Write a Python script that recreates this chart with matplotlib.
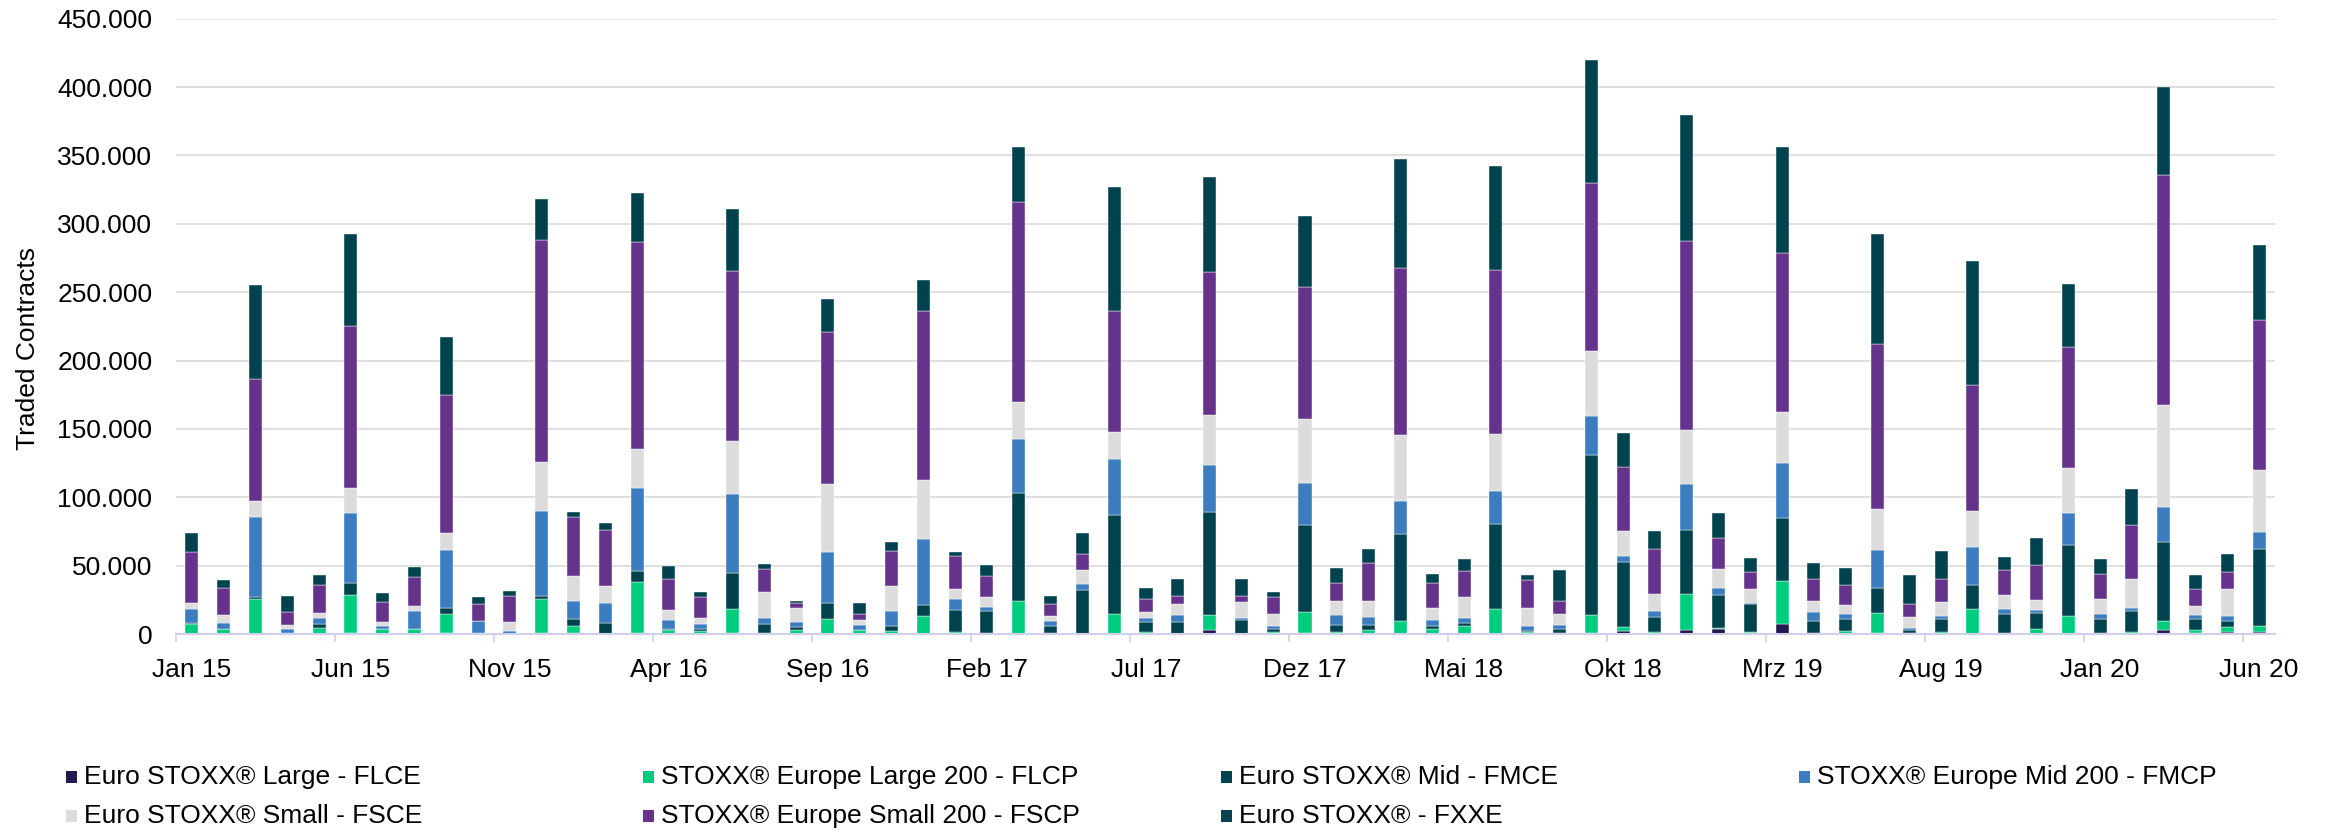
import matplotlib
matplotlib.use("Agg")
import matplotlib.pyplot as plt
import numpy as np
from matplotlib.patches import Rectangle
from matplotlib.ticker import FuncFormatter, FixedLocator

plt.rcParams['font.family'] = ['Liberation Sans', 'DejaVu Sans']

months = ["Jan 15", "Feb 15", "Mrz 15", "Apr 15", "Mai 15", "Jun 15", "Jul 15", "Aug 15", "Sep 15", "Okt 15", "Nov 15", "Dez 15",
          "Jan 16", "Feb 16", "Mrz 16", "Apr 16", "Mai 16", "Jun 16", "Jul 16", "Aug 16", "Sep 16", "Okt 16", "Nov 16", "Dez 16",
          "Jan 17", "Feb 17", "Mrz 17", "Apr 17", "Mai 17", "Jun 17", "Jul 17", "Aug 17", "Sep 17", "Okt 17", "Nov 17", "Dez 17",
          "Jan 18", "Feb 18", "Mrz 18", "Apr 18", "Mai 18", "Jun 18", "Jul 18", "Aug 18", "Sep 18", "Okt 18", "Nov 18", "Dez 18",
          "Jan 19", "Feb 19", "Mrz 19", "Apr 19", "Mai 19", "Jun 19", "Jul 19", "Aug 19", "Sep 19", "Okt 19", "Nov 19", "Dez 19",
          "Jan 20", "Feb 20", "Mrz 20", "Apr 20", "Mai 20", "Jun 20"]

# values in thousand contracts
flce = [0, 0, 0, 0, 0, 0.7, 0, 0, 1.0, 0, 0, 0.7,
        0.7, 0, 1.0, 0, 0, 1.0, 0, 0, 0, 0, 0, 0,
        0, 0, 0, 0, 0, 0, 0, 0, 2.6, 0, 0, 1.0,
        0, 0, 0, 0, 0, 0, 0, 0, 0.7, 2.0, 0, 2.6,
        3.3, 1.0, 7.5, 0, 0, 0.7, 0, 0, 0, 0, 0, 0.3,
        0, 0, 2.9, 0.7, 1.3, 1.6]
flcp = [7.5, 3.3, 25.4, 0.7, 4.2, 28.1, 3.6, 3.9, 13.7, 1.0, 0, 24.8,
        5.2, 0.3, 36.9, 2.9, 2.0, 17.3, 1.0, 2.9, 11.1, 2.9, 2.0, 13.4,
        1.3, 1.0, 24.1, 1.0, 0.3, 14.4, 1.3, 0.3, 11.4, 0.3, 1.3, 15.3,
        1.3, 2.9, 9.5, 3.6, 5.5, 18.3, 1.6, 0.7, 13.0, 3.3, 1.6, 26.4,
        1.3, 0.7, 31.3, 1.0, 2.0, 15.0, 0.7, 1.3, 18.6, 0.7, 3.3, 13.0,
        0.7, 1.3, 6.5, 2.3, 3.9, 4.6]
fmce = [0.5, 0, 2.0, 0, 3.3, 8.8, 0, 0, 4.6, 0, 0, 2.0,
        4.9, 7.8, 8.2, 0.7, 1.3, 26.4, 6.5, 2.3, 11.4, 0, 3.9, 7.8,
        16.6, 16.0, 78.9, 4.9, 31.6, 72.7, 7.8, 8.2, 75.4, 10.1, 2.0, 63.3,
        5.5, 3.9, 63.3, 2.3, 2.9, 62.0, 0.7, 2.6, 117.4, 47.0, 11.1, 47.3,
        24.1, 19.9, 46.3, 8.8, 9.1, 17.9, 2.0, 9.8, 17.6, 14.0, 11.7, 51.9,
        10.4, 15.7, 57.7, 8.2, 4.6, 55.8]
fmcp = [10.1, 4.6, 58.1, 3.3, 3.9, 50.6, 2.0, 13.0, 41.8, 8.5, 2.0, 62.3,
        13.0, 14.7, 60.7, 6.5, 4.2, 57.7, 4.2, 3.6, 37.2, 3.6, 10.8, 48.3,
        7.5, 2.9, 39.5, 3.6, 4.9, 40.8, 2.6, 5.5, 34.3, 1.6, 2.9, 30.7,
        6.9, 5.5, 24.8, 4.6, 3.3, 24.1, 3.6, 3.3, 28.1, 4.6, 3.9, 33.6,
        4.6, 1.3, 39.8, 6.2, 3.3, 27.7, 1.6, 2.0, 27.4, 3.6, 2.6, 23.2,
        3.3, 2.3, 26.1, 2.6, 3.6, 12.4]
fsce = [4.6, 5.9, 11.7, 2.6, 3.9, 18.3, 3.3, 3.9, 13.0, 0.3, 6.9, 35.9,
        18.6, 12.4, 28.4, 7.5, 4.2, 38.5, 19.2, 10.1, 50.2, 3.9, 18.6, 43.4,
        7.2, 7.5, 27.4, 3.6, 10.1, 19.9, 4.2, 7.8, 36.2, 11.7, 8.2, 46.6,
        10.4, 12.1, 47.6, 8.2, 15.0, 41.8, 13.4, 7.8, 48.0, 18.6, 12.4, 39.1,
        14.0, 10.1, 37.2, 8.5, 6.5, 30.3, 8.2, 10.1, 26.7, 10.4, 7.5, 32.9,
        11.1, 20.6, 74.0, 6.9, 19.2, 45.3]
fscp = [37.2, 20.2, 89.4, 9.8, 20.6, 118.7, 14.4, 20.6, 100.5, 12.1, 18.9, 162.4,
        43.4, 41.1, 151.7, 22.5, 15.3, 124.9, 16.3, 3.9, 110.9, 3.9, 25.4, 123.6,
        24.8, 15.3, 146.1, 9.1, 11.4, 88.1, 9.5, 6.2, 105.0, 4.2, 12.4, 96.6,
        13.4, 27.7, 122.7, 18.9, 19.6, 119.7, 20.2, 10.1, 123.0, 47.0, 33.3, 138.6,
        22.8, 12.1, 116.8, 16.0, 15.3, 120.7, 9.1, 17.3, 92.0, 18.3, 25.4, 88.7,
        18.6, 40.1, 168.3, 12.1, 12.4, 109.6]
fxxe = [14.0, 5.2, 68.5, 11.4, 6.9, 67.5, 6.9, 7.8, 42.4, 5.5, 3.6, 30.0,
        3.3, 4.6, 35.6, 9.5, 3.6, 45.0, 3.9, 1.6, 24.1, 8.2, 6.9, 22.5,
        2.9, 7.5, 40.4, 5.5, 15.3, 91.3, 8.5, 12.4, 69.2, 12.4, 3.9, 52.2,
        11.1, 9.8, 79.3, 6.5, 8.2, 76.7, 3.9, 22.5, 89.7, 24.5, 12.7, 92.0,
        18.6, 10.4, 77.3, 11.7, 12.1, 80.2, 21.5, 19.9, 90.7, 9.5, 19.6, 46.0,
        10.8, 26.4, 64.3, 10.1, 13.7, 55.1]

series_labels = ["Euro STOXX® Large - FLCE", "STOXX® Europe Large 200 - FLCP",
                 "Euro STOXX® Mid - FMCE", "STOXX® Europe Mid 200 - FMCP",
                 "Euro STOXX® Small - FSCE", "STOXX® Europe Small 200 - FSCP",
                 "Euro STOXX® - FXXE"]
series_values = [flce, flcp, fmce, fmcp, fsce, fscp, fxxe]
series_colors = ["#221b52", "#00cc7d", "#00424d", "#3b7dbf", "#dcdcdc", "#66338c", "#00424d"]

W, H = 2326, 833
fig = plt.figure(figsize=(W / 100, H / 100), dpi=100)
ax = fig.add_axes([176 / W, 1 - 634 / H, (2275 - 176) / W, (634 - 18.75) / H])

x = np.arange(len(months))
bottom = np.zeros(len(months))
for vals, col in zip(series_values, series_colors):
    v = np.array(vals) * 1000.0
    ax.bar(x, v, width=0.41, bottom=bottom, color=col, edgecolor="white", linewidth=0.3, zorder=3)
    bottom += v

ax.set_xlim(-0.5, len(months) - 0.5)
ax.set_ylim(0, 450000)
ax.set_yticks(np.arange(0, 450001, 50000))
ax.yaxis.set_major_formatter(FuncFormatter(lambda v, p: f"{int(v):,}".replace(",", ".")))
ax.grid(axis="y", color="#d9d9d9", linewidth=1.2, zorder=0)
ax.set_axisbelow(True)

label_idx = list(range(0, len(months), 5))
ax.xaxis.set_major_locator(FixedLocator(label_idx))
ax.set_xticklabels([months[i] for i in label_idx])
ax.xaxis.set_minor_locator(FixedLocator([i - 0.5 for i in label_idx]))
ax.tick_params(axis="x", which="major", length=0, pad=17, labelsize=19, labelcolor="#000000")
ax.tick_params(axis="x", which="minor", length=6, width=1.2, color="#d0d0ec", direction="out")
ax.tick_params(axis="y", which="both", length=0, pad=17, labelsize=19, labelcolor="#000000")

for s in ["top", "right", "left"]:
    ax.spines[s].set_visible(False)
ax.spines["bottom"].set_color("#d0d0ec")
ax.spines["bottom"].set_linewidth(1.5)
ax.spines["bottom"].set_zorder(4)

fig.text(28 / W, 1 - 348 / H, "Traded Contracts", rotation=90, ha="center", va="center", fontsize=19, color="#000000")

# legend (4 columns, 2 rows, row-major)
col_x = [66, 643, 1221, 1799]
row_y = [777, 816]
for k, (lab, col) in enumerate(zip(series_labels, series_colors)):
    r, c = divmod(k, 4)
    mx, my = col_x[c], row_y[r]
    fig.add_artist(Rectangle((mx / W, 1 - (my + 6) / H), 11 / W, 12 / H, transform=fig.transFigure,
                             facecolor=col, edgecolor="none"))
    fig.text((mx + 18) / W, 1 - my / H, lab, ha="left", va="center", fontsize=19, color="#000000")

fig.savefig("out.png", dpi=100)
